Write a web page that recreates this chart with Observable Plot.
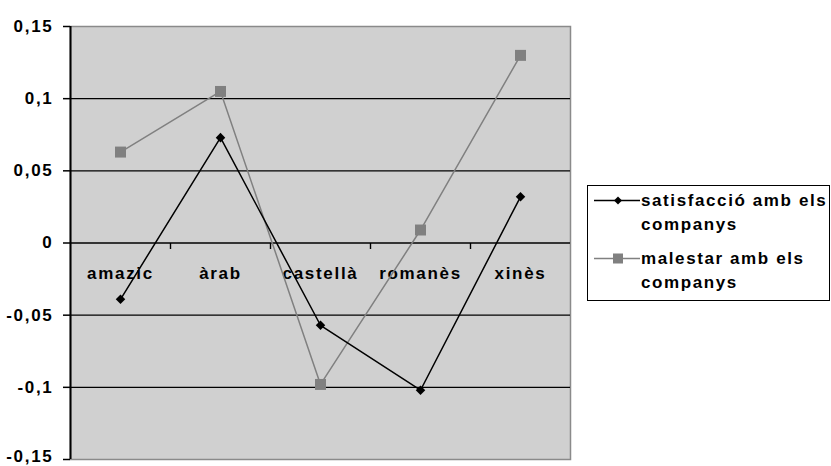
<!DOCTYPE html>
<html>
<head>
<meta charset="utf-8">
<script src="https://cdn.jsdelivr.net/npm/d3@7"></script>
<script src="https://cdn.jsdelivr.net/npm/@observablehq/plot@0.6"></script>
<style>
  html, body { margin: 0; padding: 0; background: #fff; }
  #wrap { position: relative; width: 831px; height: 466px; }
  #wrap svg text { letter-spacing: 1.7px; }
  #legend {
    position: absolute; left: 587px; top: 185px; width: 243px; height: 116px;
    box-sizing: border-box; border: 1px solid #000; background: #fff;
    font-family: "Liberation Sans", Arial, sans-serif; font-weight: 700; font-size: 17px;
    letter-spacing: 1.6px; color: #000;
  }
  .entry { position: absolute; left: 0; width: 100%; }
  .entry svg { position: absolute; left: 6px; top: 0; }
  .entry .t { position: absolute; left: 53px; line-height: 24px; white-space: nowrap; }
</style>
</head>
<body>
<div id="wrap"><div id="legend"></div></div>
<script>
const categories = ["amazic", "àrab", "castellà", "romanès", "xinès"];
const satisfaccio = [-0.039, 0.073, -0.057, -0.102, 0.032];
const malestar = [0.063, 0.105, -0.098, 0.009, 0.130];
const seriesNames = ["satisfacció amb els companys", "malestar amb els companys"];
const yTicks = [-0.15, -0.1, -0.05, 0, 0.05, 0.1, 0.15];
const gridLines = [-0.1, -0.05, 0, 0.05, 0.1];

const rows1 = categories.map((c, i) => ({i, c, v: satisfaccio[i]}));
const rows2 = categories.map((c, i) => ({i, c, v: malestar[i]}));
const boundaries = categories.slice(1).map((c, i) => i + 0.5);
const fmt = d => d === 0 ? "0" : String(d).replace(".", ",");
const yMin = d3.min(yTicks);
const tickDown = {draw(ctx) { ctx.moveTo(0, 0); ctx.lineTo(0, 6); }};

const chart = Plot.plot({
  width: 831,
  height: 466,
  marginLeft: 70,
  marginRight: 261,
  marginTop: 26,
  marginBottom: 7,
  style: {fontFamily: "'Liberation Sans', Arial, sans-serif", fontSize: "17px", fontWeight: "700", color: "#000", background: "#fff"},
  x: {domain: [-0.5, categories.length - 0.5], axis: null},
  y: {domain: [-0.15, 0.15], axis: null},
  marks: [
    Plot.frame({fill: "#d0d0d0", stroke: "#8a8a8a", strokeWidth: 1.5}),
    Plot.ruleY(gridLines, {stroke: "#000", strokeWidth: 1.4}),
    Plot.dot(boundaries, {x: d => d, y: 0, symbol: tickDown, r: 3, stroke: "#000", strokeWidth: 1.4, fill: "none"}),
    Plot.ruleX([-0.5], {stroke: "#000", strokeWidth: 2}),
    Plot.axisY({ticks: yTicks, tickFormat: d => d === yMin ? "" : fmt(d), tickSize: 7, tickPadding: 10, label: null,
      stroke: "#000", strokeWidth: 1.5, fontSize: 17, fontWeight: 700, fill: "#000"}),
    Plot.axisY({ticks: [yMin], tickFormat: fmt, tickSize: 0, tickPadding: 17, dy: -3, label: null,
      fontSize: 17, fontWeight: 700, fill: "#000"}),
    Plot.text(categories, {x: (d, i) => i, y: 0, dy: 31, text: d => d, fontSize: 17, fontWeight: 700, fill: "#000"}),
    Plot.line(rows2, {x: "i", y: "v", stroke: "#808080", strokeWidth: 1.5}),
    Plot.line(rows1, {x: "i", y: "v", stroke: "#000", strokeWidth: 1.5}),
    Plot.dot(rows2, {x: "i", y: "v", symbol: "square", r: 6.2, fill: "#808080", stroke: "none"}),
    Plot.dot(rows1, {x: "i", y: "v", symbol: "diamond2", r: 4.3, fill: "#000", stroke: "none"})
  ]
});
document.getElementById("wrap").prepend(chart);

// legend
const legend = document.getElementById("legend");
const styles = [
  {stroke: "#000", marker: "diamond", top: 3},
  {stroke: "#808080", marker: "square", top: 61}
];
seriesNames.forEach((name, k) => {
  const s = styles[k];
  const e = document.createElement("div");
  e.className = "entry";
  e.style.top = s.top + "px";
  const words = name.split(" ");
  const line1 = words.slice(0, 3).join(" ");
  const line2 = words.slice(3).join(" ");
  const mk = s.marker === "diamond"
    ? `<path d="M24,7.5 L28,11.5 L24,15.5 L20,11.5Z" fill="#000"/>`
    : `<rect x="19" y="6.5" width="10" height="10" fill="#808080"/>`;
  e.innerHTML = `<svg width="48" height="24"><line x1="0" x2="46" y1="11.5" y2="11.5" stroke="${s.stroke}" stroke-width="1.5"/>${mk}</svg>` +
    `<div class="t" style="top:0">${line1}</div><div class="t" style="top:24px">${line2}</div>`;
  legend.appendChild(e);
});
</script>
</body>
</html>
